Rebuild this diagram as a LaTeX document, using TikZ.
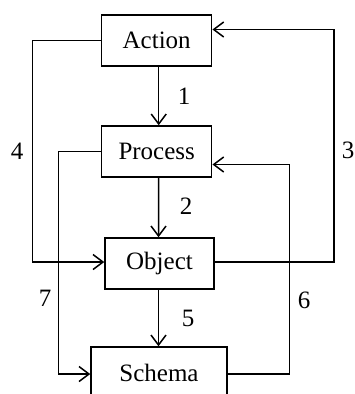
\documentclass[tikz,border=0pt]{standalone}
\usepackage{fontspec}
\setmainfont{Liberation Serif}
\usetikzlibrary{arrows.meta}
\begin{document}
\begin{tikzpicture}[x=1pt,y=-1pt,line width=1.5pt,
  box/.style={draw,line width=1.5pt,inner sep=0pt,minimum height=51pt,font=\fontsize{25}{29}\selectfont},
  lbl/.style={font=\fontsize{25}{29}\selectfont,inner sep=0pt},
  arr/.style={-{Straight Barb[length=10pt,width=15pt,line width=1.5pt]}}]
\useasboundingbox (0,0) rectangle (355,394);
\clip (0,0) rectangle (355,394);
\node[box,minimum width=110pt] (act) at (156.7,40.5) {Action};
\node[box,minimum width=110pt] (proc) at (156.7,151.5) {Process};
\node[box,minimum width=109pt] (obj) at (159.5,263.5) {Object};
\node[box,minimum width=136pt] (sch) at (159,372.5) {Schema};
\coordinate (c4) at (32.5,0);
\coordinate (c7) at (58.3,0);
\coordinate (c3) at (334,0);
\coordinate (c6) at (289.3,0);
\draw[arr] ([xshift=2pt]act.south) -- ([xshift=2pt]proc.north);
\draw[arr] ([xshift=2pt]proc.south) -- ([xshift=-1pt]obj.north);
\draw[arr] ([xshift=-1pt]obj.south) -- ([xshift=-0.5pt]sch.north);
\draw[arr] (act.west) -- (act.west -| c4) |- ([yshift=1.5pt]obj.west);
\draw[arr] (proc.west) -- (proc.west -| c7) |- ([yshift=-1.5pt]sch.west);
\draw[arr] ([yshift=1.5pt]obj.east) -- ([yshift=1.5pt]obj.east -| c3) |- ([yshift=11pt]act.east);
\draw[arr] ([yshift=-1.5pt]sch.east) -- ([yshift=-1.5pt]sch.east -| c6) |- ([yshift=-13pt]proc.east);
\node[lbl] (l1) at (184,96) {1};
\node[lbl] (l2) at (186,206) {2};
\node[lbl] (l3) at (348,150) {3};
\node[lbl] (l4) at (17,151) {4};
\node[lbl] (l5) at (188,318) {5};
\node[lbl] (l6) at (304,300) {6};
\node[lbl] (l7) at (45,298) {7};
\end{tikzpicture}
\end{document}
